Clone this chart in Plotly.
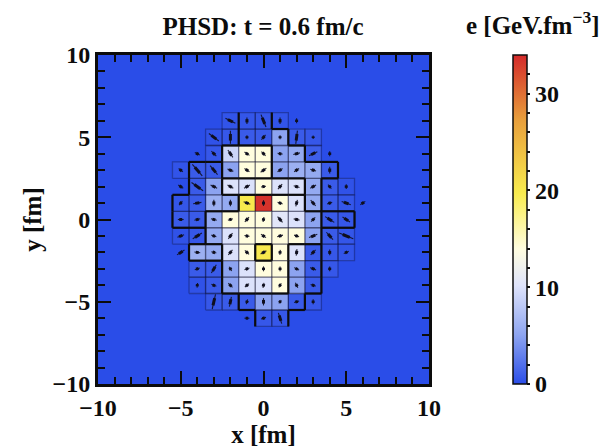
import plotly.graph_objects as go

FONT = "Liberation Serif"
BLACK = "#0c0c0c"

cell_x = [-6, -5, -4, -3, -2, -1, 0, 1, 2, 3, 4, 5, 6]
cell_y = [6, 5, 4, 3, 2, 1, 0, -1, -2, -3, -4, -5, -6]

# energy density per cell (rows: y = 6 ... -6; columns: x = -6 ... 6)
energy = [
    [0, 0, 0, 0, .4, .5, .5, .4, 0, 0, 0, 0, 0],
    [0, 0, 0, .3, .6, .8, .8, 5, .8, .6, 0, 0, 0],
    [0, 0, 0, .6, 9, 14, 14, 5, 5.5, 1, 0, 0, 0],
    [0, .4, .8, .8, 5, 14, 14, 5, 6, 5.5, .8, 0, 0],
    [0, 0, .8, 5, 10, 10, 14, 10, 10, 5.5, .8, .3, 0],
    [0, .5, .8, 6, 5.5, 20, 33.5, 14, 10, 5.5, .8, .5, 0],
    [0, .8, .8, 5.5, 14, 14, 14, 10.5, 10, 5, .8, .6, 0],
    [0, .3, .6, 5.5, 10, 14, 14, 14, 14, 5, .8, .5, 0],
    [0, 0, 6, 5.5, 10, 14, 20, 14, 10, .8, .6, .4, 0],
    [0, 0, .8, .8, 5, 10, 14, 14, 5, .8, .6, 0, 0],
    [0, 0, .3, .8, 5, 10, 10, 14, 5, .8, 0, 0, 0],
    [0, 0, 0, .6, .8, .8, 5, 5, .8, .6, 0, 0, 0],
    [0, 0, 0, 0, 0, 0, .6, .6, 0, 0, 0, 0, 0],
]

# contour band per cell: heavy outlines are drawn where neighbouring bands differ
band = [
    [0, 0, 0, 0, 0, 1, 1, 0, 0, 0, 0, 0, 0],
    [0, 0, 0, 0, 0, 1, 1, 1, 0, 0, 0, 0, 0],
    [0, 0, 0, 0, 2, 2, 2, 1, 1, 0, 0, 0, 0],
    [0, 0, 1, 1, 2, 2, 2, 1, 1, 1, 1, 0, 0],
    [0, 0, 1, 1, 3, 3, 3, 3, 3, 1, 0, 0, 0],
    [0, 1, 1, 1, 1, 2, 2, 2, 2, 1, 0, 0, 0],
    [0, 1, 1, 2, 2, 2, 2, 2, 2, 2, 1, 1, 0],
    [0, 0, 0, 2, 2, 2, 2, 2, 2, 2, 0, 0, 0],
    [0, 0, 1, 1, 2, 2, 3, 2, 1, 1, 0, 0, 0],
    [0, 0, 0, 0, 2, 2, 2, 2, 1, 1, 0, 0, 0],
    [0, 0, 0, 0, 2, 2, 2, 2, 1, 1, 0, 0, 0],
    [0, 0, 0, 0, 0, 1, 1, 1, 1, 0, 0, 0, 0],
    [0, 0, 0, 0, 0, 0, 1, 1, 0, 0, 0, 0, 0],
]

flow_u = [
    [0, 0, 0, 0, .6, 0, .3, 0, 0, 0, 0, 0, 0],
    [0, 0, 0, .6, 0, 0, .25, 0, .1, 0, 0, 0, 0],
    [0, 0, .3, .3, .3, .3, .25, .3, .4, .5, 0, 0, 0],
    [0, .25, .6, .45, .35, .3, .35, .3, .3, .35, 0, 0, 0],
    [0, .3, .7, .4, .35, .35, .3, .25, .35, .35, .2, 0, 0],
    [0, .2, .5, 0, 0, .4, 0, .3, .1, .3, .3, .55, .3],
    [0, .35, .35, .35, .3, .25, .05, .3, .35, .25, .55, .45, 0],
    [0, .4, .55, .3, .25, .3, .3, .35, .3, .5, .4, .85, 0],
    [0, .45, .35, .3, .25, .25, .35, .03, .05, .3, 0, .3, 0],
    [0, 0, .3, .3, .15, .3, 0, 0, .3, .35, 0, 0, 0],
    [0, 0, .03, .3, .25, .25, .06, .15, .15, .3, 0, 0, 0],
    [0, 0, 0, .2, .12, .08, 0, .15, .3, 0, 0, 0, 0],
    [0, 0, 0, 0, 0, .3, .3, .2, 0, 0, 0, 0, 0],
]

flow_v = [
    [0, 0, 0, 0, -.3, .4, -.75, .4, .3, 0, 0, 0, 0],
    [0, 0, 0, -.45, .8, .25, .3, .25, .8, .2, 0, 0, 0],
    [0, 0, -.15, -.3, -.45, -.2, -.25, -.05, .1, .25, .3, 0, 0],
    [0, -.2, -.7, -.55, -.15, -.2, .25, .2, .2, -.1, .4, 0, 0],
    [0, -.2, -.5, -.2, -.2, .2, .05, .3, -.1, .2, -.25, .3, 0],
    [0, .25, .08, .4, .4, -.15, .35, -.1, .4, -.35, .1, -.2, .2],
    [0, 0, .1, -.1, .1, .3, .3, -.35, -.08, .25, -.35, -.3, 0],
    [0, .15, .35, -.1, .35, -.05, -.2, .1, -.1, .2, -.45, -.35, 0],
    [0, .3, -.05, -.08, .3, -.25, .2, .3, .4, .3, .35, .15, 0],
    [0, 0, .1, .5, -.25, .1, .3, .3, -.15, -.15, .3, 0, 0],
    [0, 0, .28, -.12, -.25, .2, .3, .25, -.3, -.1, 0, 0, 0],
    [0, 0, 0, .9, .6, .3, .45, .2, .1, .3, 0, 0, 0],
    [0, 0, 0, 0, 0, 0, .1, -.65, 0, 0, 0, 0, 0],
]

colorbar_ticks = [0, 2, 4, 6, 8, 10, 12, 14, 16, 18, 20, 22, 24, 26, 28, 30, 32]
colorbar_text = ["0", "", "", "", "", "10", "", "", "", "", "20", "", "", "", "", "30", ""]

colorscale = [
    [0.0, "#2a4de8"], [0.15, "#8ea5f0"], [0.30, "#dfe4fb"], [0.41, "#fffde0"],
    [0.58, "#f9ec4e"], [0.80, "#e8a03c"], [1.0, "#d42a2a"],
]

n = len(cell_x)
half = 0.5
thin_x, thin_y, thick_x, thick_y = [], [], [], []
shaft_x, shaft_y, blob_x, blob_y = [], [], [], []

for r in range(n):
    for c in range(n):
        x, y = cell_x[c], cell_y[r]
        if energy[r][c] > 0:
            thin_x += [x - half, x + half, x + half, x - half, x - half, None]
            thin_y += [y - half, y - half, y + half, y + half, y - half, None]
        if c + 1 < n and band[r][c] != band[r][c + 1]:
            thick_x += [x + half, x + half, None]
            thick_y += [y - half, y + half, None]
        if r + 1 < n and band[r][c] != band[r + 1][c]:
            thick_x += [x - half, x + half, None]
            thick_y += [y - half, y - half, None]
        u, v = flow_u[r][c], flow_v[r][c]
        if u or v:
            shaft_x += [x - u / 2, x + u / 2, None]
            shaft_y += [y - v / 2, y + v / 2, None]
            blob_x += [x - u * .25, x + u * .25, None]
            blob_y += [y - v * .25, y + v * .25, None]

fig = go.Figure()
fig.add_trace(go.Heatmap(
    x=cell_x, y=cell_y, z=energy, zmin=0, zmax=34, colorscale=colorscale,
    hoverinfo="skip", xgap=0, ygap=0,
    colorbar=dict(
        x=1.254, xanchor="left", xpad=0, y=0.5, yanchor="middle", ypad=0,
        len=1, lenmode="fraction", thickness=14, thicknessmode="pixels",
        outlinewidth=1.5, outlinecolor=BLACK,
        tickmode="array", tickvals=colorbar_ticks, ticktext=colorbar_text,
        ticks="outside", ticklen=3, tickwidth=2, tickcolor=BLACK,
        tickfont=dict(family=FONT, size=24, color=BLACK, weight="bold"),
    ),
))
line_traces = [
    (thin_x, thin_y, "rgba(10,10,40,0.33)", 1.3),
    (thick_x, thick_y, BLACK, 2.2),
    (shaft_x, shaft_y, "rgba(15,15,30,0.9)", 1.1),
    (blob_x, blob_y, "rgba(15,15,30,1)", 3.0),
]
for xs, ys, col, w in line_traces:
    fig.add_trace(go.Scatter(x=xs, y=ys, mode="lines", line=dict(color=col, width=w),
                             hoverinfo="skip", showlegend=False))

tick_font = dict(family=FONT, size=24, color=BLACK, weight="bold")
title_font = dict(family=FONT, size=25, color=BLACK)
axis = dict(
    range=[-10, 10], dtick=5, tick0=0, ticks="inside", ticklen=13, tickwidth=2.2,
    tickcolor=BLACK, showgrid=False, zeroline=False, showline=True, linewidth=3,
    linecolor=BLACK, mirror="allticks", tickfont=tick_font,
    minor=dict(dtick=1, ticks="inside", ticklen=7, tickwidth=1.8, tickcolor=BLACK, showgrid=False),
)
fig.update_xaxes(**axis)
fig.update_yaxes(**axis)
fig.update_xaxes(title=dict(text="<b>x [fm]</b>", font=title_font, standoff=2))
fig.update_yaxes(title=dict(text="<b>y [fm]</b>", font=title_font, standoff=4))

fig.update_layout(
    width=607, height=446, autosize=False,
    margin=dict(l=90, r=186, t=47, b=70, pad=0),
    paper_bgcolor="white", plot_bgcolor="#2a4de8", showlegend=False,
    title=dict(text="<b>PHSD: t = 0.6 fm/c</b>", x=255 / 607, xanchor="center",
               y=1 - 18 / 446, yanchor="middle", font=title_font),
    annotations=[dict(text="<b>e [GeV.fm<sup>−3</sup>]</b>", xref="paper", yref="paper",
                      x=1.314, y=1.097, xanchor="center", yanchor="middle", showarrow=False,
                      font=title_font)],
)
fig.write_html("out.html")
